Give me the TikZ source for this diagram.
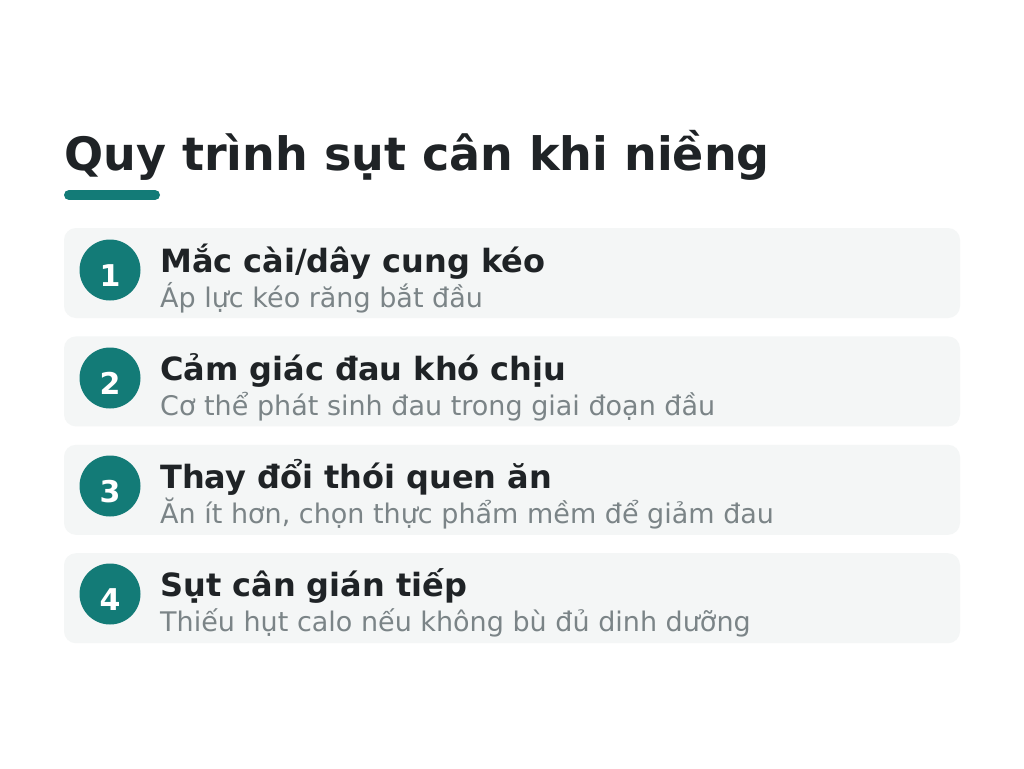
\documentclass[tikz,border=0pt]{standalone}
\usepackage{fontspec}
\setmainfont{DejaVu Sans}
\usetikzlibrary{positioning}

\definecolor{teal}{HTML}{137B77}
\definecolor{ink}{HTML}{1F2326}
\definecolor{muted}{HTML}{7B8487}
\definecolor{cardbg}{HTML}{F4F6F6}

\tikzset{
  card/.style={fill=cardbg,rounded corners=12pt,minimum width=896pt,minimum height=90pt,inner sep=0pt},
  num/.style={circle,fill=teal,minimum size=61pt,inner sep=0pt,text=white,text height=33pt,text depth=0pt,font=\bfseries\fontsize{30}{30}\selectfont},
  head/.style={anchor=base west,inner sep=0pt,text=ink,font=\bfseries\fontsize{32}{32}\selectfont},
  sub/.style={anchor=base west,inner sep=0pt,text=muted,font=\fontsize{27}{27}\selectfont}
}

\begin{document}
\begin{tikzpicture}[x=1pt,y=-1pt]
  \useasboundingbox[fill=white] (0,0) rectangle (1024,768);

  \node[head,font=\bfseries\fontsize{46}{46}\selectfont] (title) at (64,170) {Quy trình sụt cân khi niềng};
  \coordinate (barL) at (69,195);
  \coordinate (barR) at (155,195);
  \draw[teal,line width=10pt,line cap=round] (barL) -- (barR);

  \node[card] (c1) at (512,273) {};
  \node[num]  (n1) at (110,270) {1};
  \node[head] (h1) at (160,272) {Mắc cài/dây cung kéo};
  \node[sub]  (s1) at (160,307) {Áp lực kéo răng bắt đầu};

  \node[card] (c2) [below=18pt of c1] {};
  \node[num]  (n2) at (110,378) {2};
  \node[head] (h2) at (160,380) {Cảm giác đau khó chịu};
  \node[sub]  (s2) at (160,415) {Cơ thể phát sinh đau trong giai đoạn đầu};

  \node[card] (c3) [below=18pt of c2] {};
  \node[num]  (n3) at (110,486) {3};
  \node[head] (h3) at (160,488) {Thay đổi thói quen ăn};
  \node[sub]  (s3) at (160,523) {Ăn ít hơn, chọn thực phẩm mềm để giảm đau};

  \node[card] (c4) [below=18pt of c3] {};
  \node[num]  (n4) at (110,594) {4};
  \node[head] (h4) at (160,596) {Sụt cân gián tiếp};
  \node[sub]  (s4) at (160,631) {Thiếu hụt calo nếu không bù đủ dinh dưỡng};
\end{tikzpicture}
\end{document}
